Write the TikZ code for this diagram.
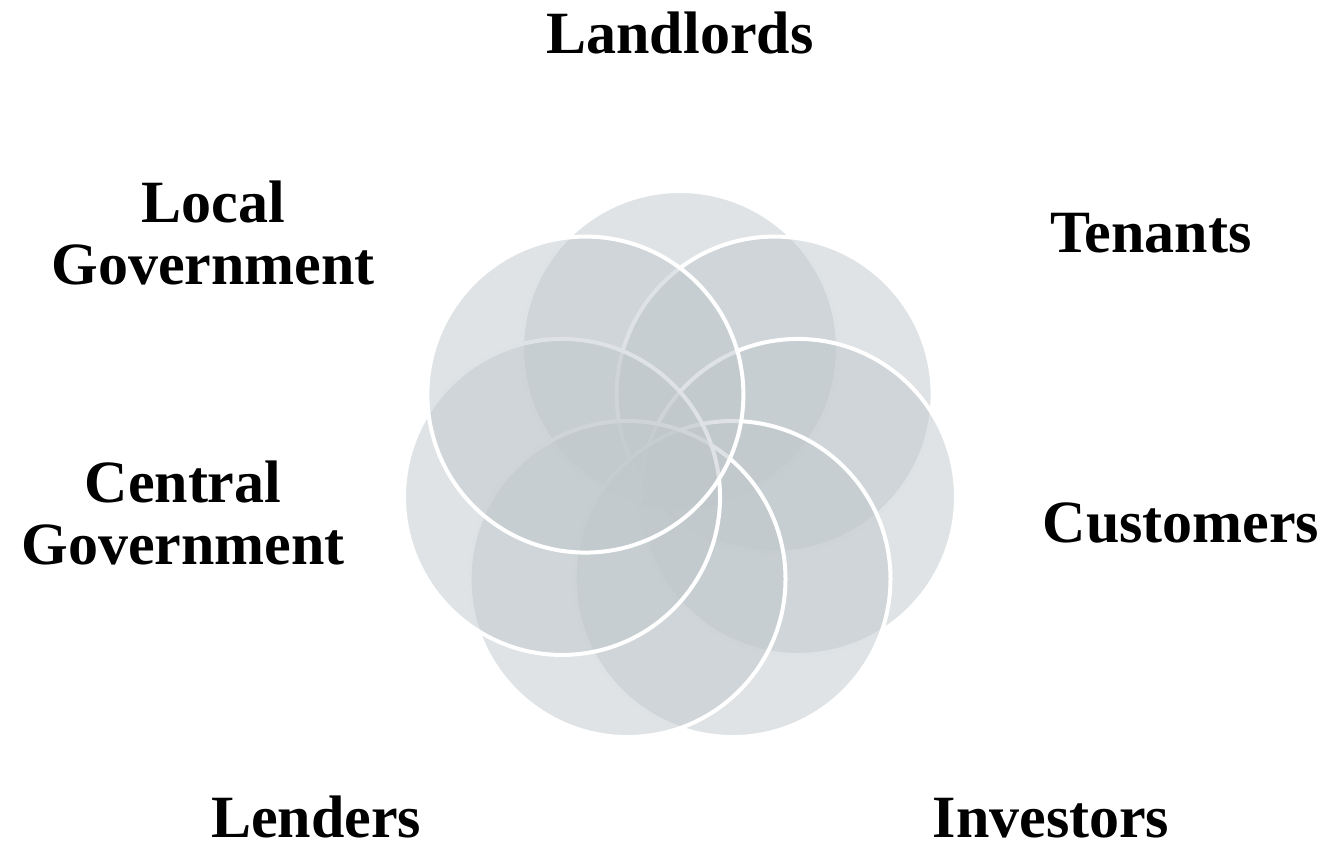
\documentclass[tikz,border=0pt]{standalone}
\usepackage{fontspec}
\setmainfont{Liberation Serif}
\usetikzlibrary{calc}
\definecolor{petalgray}{RGB}{191,199,203}

\begin{document}
\begin{tikzpicture}[x=0.5pt, y=-0.5pt,
    petal/.style={circle, minimum size=158pt, inner sep=0pt, draw=white,
        line width=2pt, fill=petalgray, fill opacity=0.5},
    party/.style={font=\bfseries\fontsize{30}{31}\selectfont, align=center,
        inner sep=0pt, anchor=base}]
    \useasboundingbox (0,0) rectangle (1332,848);
    \coordinate (O) at (680,470);
    % circles, clockwise from the top
    \foreach \i/\n in {0/landlords, 1/tenants, 2/customers, 3/investors,
        4/lenders, 5/centralgov, 6/localgov}
        \node[petal] (\n) at ($(O)+(-90+\i*51.4286:121)$) {};
    % names round the circles
    \node[party] (landlordsname) at (680,53) {Landlords};
    \node[party] (tenantsname) at (1151,252) {Tenants};
    \node[party] (customersname) at (1181,542) {Customers};
    \node[party] (investorsname) at (1051,837) {Investors};
    \node[party] (lendersname) at (316,837) {Lenders};
    \node[party] (centralgovname) at (183,564) {Central\\Government};
    \node[party] (localgovname) at (213,284) {Local\\Government};
\end{tikzpicture}
\end{document}
